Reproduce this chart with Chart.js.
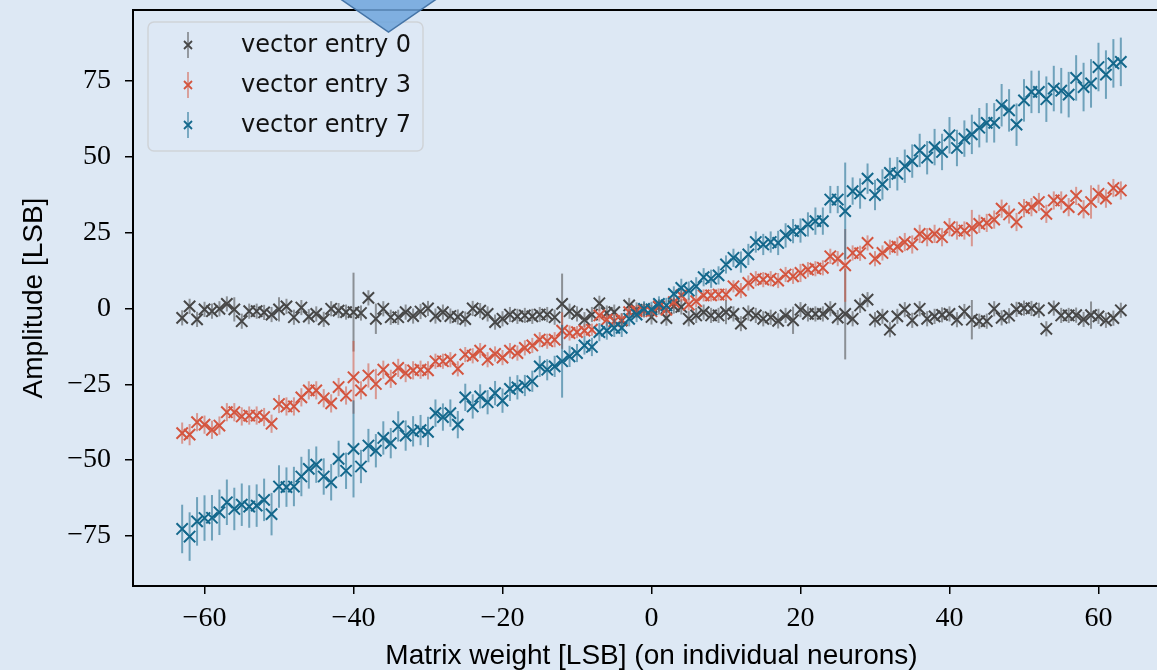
<!DOCTYPE html>
<html>
<head>
<meta charset="utf-8">
<script src="https://cdn.jsdelivr.net/npm/chart.js@4.4.1/dist/chart.umd.min.js"></script>
<style>
    html, body { margin: 0; padding: 0; background: #dde8f4; overflow: hidden; }
    #wrap { width: 1180px; height: 670px; }
</style>
</head>
<body>
<div id="wrap"><canvas id="chartAmplitude"></canvas></div>
<script>
// pesos de la matriz (eje x)
var weights = [-63, -62, -61, -60, -59, -58, -57, -56, -55, -54, -53, -52, -51, -50, -49, -48, -47, -46, -45, -44,
    -43, -42, -41, -40, -39, -38, -37, -36, -35, -34, -33, -32, -31, -30, -29, -28, -27, -26, -25, -24,
    -23, -22, -21, -20, -19, -18, -17, -16, -15, -14, -13, -12, -11, -10, -9, -8, -7, -6, -5, -4,
    -3, -2, -1, 0, 1, 2, 3, 4, 5, 6, 7, 8, 9, 10, 11, 12, 13, 14, 15, 16,
    17, 18, 19, 20, 21, 22, 23, 24, 25, 26, 27, 28, 29, 30, 31, 32, 33, 34, 35, 36,
    37, 38, 39, 40, 41, 42, 43, 44, 45, 46, 47, 48, 49, 50, 51, 52, 53, 54, 55, 56,
    57, 58, 59, 60, 61, 62, 63];

var seriesNames = ['vector entry 0', 'vector entry 3', 'vector entry 7'];

var entry0 = [-3.1, 0.7, -3.6, -0.3, -0.9, -0.1, 1.5, -0.3, -4.2, -0.9, -0.9, -1.3, -2.0, -0.3, 0.7, -2.9, 0.3, -2.7, -1.8, -3.6,
    -0.1, -0.7, -1.2, -1.2, -1.5, 3.5, -3.4, -0.1, -2.9, -2.9, -1.2, -2.5, -1.0, 0.0, -2.5, -1.2, -2.5, -2.8, -3.5, 0.0,
    -0.7, -1.8, -4.5, -3.4, -2.0, -2.6, -2.3, -2.6, -2.0, -2.0, -2.9, 1.5, -0.9, -1.8, -3.7, -2.0, 1.7, -1.5, -1.2, -4.0,
    1.0, -0.5, -0.5, -2.8, 0.5, -3.2, 0.8, 0.5, -3.4, -2.3, -1.2, -2.3, -2.3, -1.2, -1.8, -5.0, -1.5, -2.3, -3.4, -2.9,
    -4.1, -2.3, -3.9, -0.4, -1.8, -1.8, -1.8, -0.1, -3.0, -1.8, -3.4, 1.0, 2.9, -3.7, -2.6, -7.0, -2.6, -0.4, -3.9, -0.1,
    -3.4, -2.6, -2.1, -1.8, -3.7, -1.0, -3.7, -4.2, -4.2, -0.1, -3.1, -2.4, -0.3, 0.1, 0.0, -0.6, -6.7, 0.1, -2.3, -2.3,
    -2.2, -3.6, -2.2, -2.6, -3.9, -3.2, -0.6];
var err0 = [2.5, 2.5, 2.5, 2.5, 2.5, 2.5, 2.5, 4, 2.5, 2.5, 2.5, 2.5, 2.5, 4, 2.5, 2.5, 2.5, 2.5, 2.5, 2.5,
    2.5, 2.5, 2.5, 13, 2.5, 2.5, 5, 2.5, 2.5, 2.5, 2.5, 2.5, 2.5, 2.5, 2.5, 2.5, 2.5, 2.5, 2.5, 2.5,
    2.5, 2.5, 2.5, 2.5, 2.5, 2.5, 2.5, 2.5, 2.5, 2.5, 2.5, 10, 2.5, 2.5, 2.5, 2.5, 2.5, 2.5, 2.5, 2.5,
    2.5, 2.5, 2.5, 2.5, 2.5, 2.5, 2.5, 2.5, 2.5, 2.5, 2.5, 2.5, 2.5, 4, 2.5, 2.5, 2.5, 2.5, 2.5, 2.5,
    2.5, 2.5, 4.5, 2.5, 2.5, 2.5, 2.5, 2.5, 2.5, 15, 2.5, 2.5, 2.5, 2.5, 2.5, 2.5, 2.5, 2.5, 2.5, 2.5,
    2.5, 2.5, 2.5, 2.5, 2.5, 2.5, 6.5, 2.5, 2.5, 2.5, 2.5, 2.5, 2.5, 2.5, 2.5, 2.5, 2.5, 2.5, 2.5, 2.5,
    2.5, 2.5, 4.5, 2.5, 2.5, 2.5, 2.5];

var entry3 = [-41.1, -41.6, -37.5, -38.3, -40.0, -38.6, -34.2, -34.2, -35.6, -35.3, -35.3, -35.8, -38.0, -31.5, -32.3, -32.3, -29.3, -27.0, -27.0, -29.6,
    -31.3, -25.9, -28.7, -22.7, -27.0, -22.1, -24.9, -20.2, -23.2, -19.6, -21.3, -20.4, -20.2, -20.4, -17.4, -17.4, -16.9, -19.9, -15.2, -15.6,
    -13.9, -16.9, -15.0, -16.2, -13.9, -14.7, -13.0, -12.2, -10.3, -10.8, -10.3, -7.3, -8.1, -7.8, -7.3, -7.0, -2.3, -3.7, -4.2, -3.7,
    -1.2, -0.9, -0.7, -0.9, 0.7, -0.4, 2.1, 4.3, 1.3, 2.4, 4.3, 4.3, 4.6, 4.6, 7.3, 5.9, 8.4, 9.8, 9.5, 9.8,
    9.2, 11.2, 10.6, 11.7, 12.8, 13.1, 13.4, 17.2, 16.4, 14.2, 18.3, 18.2, 21.6, 16.4, 18.3, 20.2, 20.4, 21.9, 21.1, 24.6,
    23.5, 24.6, 23.5, 26.8, 25.7, 25.7, 26.5, 27.9, 28.2, 29.3, 32.9, 31.0, 28.5, 33.1, 33.4, 35.1, 31.2, 35.6, 35.6, 33.4,
    37.1, 32.7, 35.1, 37.8, 36.2, 39.7, 38.9];
var err3 = [3.5, 3.5, 3, 3, 3, 3, 3, 3, 3, 3, 3, 3, 3, 3, 3, 3, 3, 3, 3, 3,
    3, 3, 3, 12, 3, 4, 5, 3, 3, 3, 3, 3, 3, 3, 2.5, 2.5, 2.5, 2.5, 2.5, 2.5,
    2.5, 2.5, 2.5, 2.5, 2.5, 2.5, 2.5, 2.5, 2.5, 2.5, 2.5, 6, 2.5, 2, 2, 2, 2, 2, 2, 2,
    2, 2, 2, 2, 2, 2, 2, 2, 2, 2, 2, 2, 2, 2, 2, 2.5, 2.5, 2.5, 2.5, 2.5,
    2.5, 2.5, 2.5, 3, 2.5, 2.5, 2.5, 2.5, 2.5, 12, 2.5, 2.5, 2.5, 2.5, 2.5, 2.5, 3, 3, 3, 3,
    3, 3, 3, 3, 3, 3, 6, 3, 3, 3, 3, 3, 3, 3, 3, 3, 3, 3, 3, 3,
    3, 3, 5.5, 3, 3, 3, 3];

var entry7 = [-72.7, -75.2, -70.2, -69.1, -69.0, -67.2, -63.9, -66.1, -64.7, -65.3, -65.0, -63.1, -67.8, -58.7, -58.9, -58.7, -55.4, -52.9, -51.5, -55.4,
    -57.3, -49.6, -53.5, -46.3, -52.1, -45.2, -46.9, -42.7, -44.4, -38.9, -41.9, -40.5, -40.1, -40.7, -34.5, -35.8, -34.5, -38.3, -29.3, -32.3,
    -29.0, -30.9, -27.9, -30.4, -26.5, -26.0, -25.4, -24.0, -19.1, -20.2, -19.1, -17.4, -15.8, -14.7, -12.2, -12.7, -7.8, -7.3, -6.4, -6.4,
    -3.4, -2.0, -0.1, -0.3, 1.5, 1.0, 4.8, 6.8, 5.9, 7.3, 10.3, 9.8, 10.9, 14.5, 16.7, 15.3, 17.8, 21.9, 21.1, 21.9,
    21.6, 24.1, 25.5, 25.7, 27.7, 28.8, 28.8, 35.9, 35.9, 32.1, 38.7, 37.9, 42.8, 37.4, 40.9, 44.7, 44.4, 46.9, 48.6, 52.1,
    49.7, 53.2, 51.6, 57.1, 52.9, 56.0, 57.4, 59.6, 61.2, 61.2, 67.0, 65.3, 60.6, 68.6, 71.4, 71.4, 69.0, 72.5, 71.8, 70.5,
    76.0, 73.0, 74.2, 79.6, 77.1, 80.8, 81.3];
var err7 = [8, 8, 8, 7.5, 7.5, 7.5, 7.5, 7, 7, 7, 7, 7, 7, 7, 6.5, 6.5, 6.5, 6.5, 6, 6,
    6, 6, 6, 16, 5.5, 5.5, 5.5, 5.5, 5, 5, 5, 5, 5, 5, 4.5, 4.5, 4.5, 4.5, 4.5, 4,
    4, 4, 4, 4, 4, 4, 3.5, 3.5, 3.5, 3.5, 3.5, 12, 3.5, 3, 3, 3, 3, 3, 3, 3,
    2.5, 2.5, 2.5, 2.5, 2.5, 2.5, 2.5, 3, 3, 3, 3, 3, 3, 3, 3, 3.5, 3.5, 3.5, 3.5, 3.5,
    4, 4, 4, 4, 4, 4.5, 4.5, 4.5, 4.5, 16, 4.5, 5, 5, 5, 5, 5, 5.5, 5.5, 5.5, 5.5,
    5.5, 6, 6, 6, 6, 6, 6.5, 6.5, 6.5, 6.5, 7, 7, 7, 7, 7, 7, 7.5, 7.5, 7.5, 7.5,
    7.5, 8, 8, 8, 8, 8, 8];

var xTicks = [-60, -40, -20, 0, 20, 40, 60];
var yTicks = [-75, -50, -25, 0, 25, 50, 75];

var markerColors = ['#474747', '#d4553f', '#14688c'];
var errColors = ['rgba(71,71,71,0.55)', 'rgba(212,85,63,0.55)', 'rgba(20,104,140,0.55)'];

function toPoints(values) {
    return weights.map(function (w, i) { return { x: w, y: values[i] }; });
}

function fmtTick(v) {
    return v < 0 ? '\u2212' + Math.abs(v) : String(v);
}

// barras de error debajo de cada serie
var errorBars = {
    id: 'errorBars',
    beforeDatasetDraw: function (chart, args) {
        var ds = chart.data.datasets[args.index];
        var meta = args.meta;
        var yScale = chart.scales.y;
        var ctx = chart.ctx;
        ctx.save();
        ctx.strokeStyle = ds.errColor;
        ctx.lineWidth = 2;
        ds.data.forEach(function (p, i) {
            var px = meta.data[i].x;
            ctx.beginPath();
            ctx.moveTo(px, yScale.getPixelForValue(p.y - ds.errors[i]));
            ctx.lineTo(px, yScale.getPixelForValue(p.y + ds.errors[i]));
            ctx.stroke();
        });
        ctx.restore();
    }
};

// borde superior, leyenda y flecha decorativa
var frameAndLegend = {
    id: 'frameAndLegend',
    afterDraw: function (chart) {
        var ctx = chart.ctx, a = chart.chartArea;
        ctx.save();
        ctx.strokeStyle = '#000';
        ctx.lineWidth = 2;
        ctx.beginPath();
        ctx.moveTo(a.left, a.top);
        ctx.lineTo(a.right, a.top);
        ctx.lineTo(a.right, a.bottom);
        ctx.stroke();

        // leyenda
        var bx = a.left + 15, by = a.top + 12, bw = 275, bh = 129;
        ctx.beginPath();
        ctx.roundRect(bx, by, bw, bh, 6);
        ctx.fillStyle = 'rgba(221,232,244,0.85)';
        ctx.fill();
        ctx.strokeStyle = '#cfd3d8';
        ctx.lineWidth = 1.5;
        ctx.stroke();

        ctx.font = '24px "DejaVu Sans"';
        ctx.textBaseline = 'middle';
        ctx.textAlign = 'left';
        seriesNames.forEach(function (name, i) {
            var cy = by + 23 + i * 40;
            var mx = bx + 40;
            ctx.strokeStyle = errColors[i];
            ctx.lineWidth = 1.8;
            ctx.beginPath();
            ctx.moveTo(mx, cy - 13);
            ctx.lineTo(mx, cy + 13);
            ctx.stroke();
            ctx.strokeStyle = markerColors[i];
            ctx.beginPath();
            ctx.moveTo(mx - 4, cy - 4); ctx.lineTo(mx + 4, cy + 4);
            ctx.moveTo(mx - 4, cy + 4); ctx.lineTo(mx + 4, cy - 4);
            ctx.stroke();
            ctx.fillStyle = '#111';
            ctx.fillText(name, bx + 93, cy + 1);
        });

        // flecha azul de la diapositiva
        ctx.beginPath();
        ctx.moveTo(339, -2);
        ctx.lineTo(438, -2);
        ctx.lineTo(388.5, 32);
        ctx.closePath();
        ctx.fillStyle = 'rgba(110,165,220,0.85)';
        ctx.fill();
        ctx.strokeStyle = '#4574a6';
        ctx.lineWidth = 1.5;
        ctx.stroke();
        ctx.restore();
    }
};

function makeDataset(i, values, errors, order) {
    return {
        label: seriesNames[i],
        data: toPoints(values),
        errors: errors,
        errColor: errColors[i],
        showLine: false,
        pointStyle: 'crossRot',
        pointRadius: 8,
        pointHoverRadius: 8,
        pointBorderWidth: 2,
        borderColor: markerColors[i],
        backgroundColor: markerColors[i],
        order: order
    };
}

function renderAmplitudeChart() {
    var ctx = document.getElementById('chartAmplitude').getContext('2d');
    new Chart(ctx, {
        type: 'scatter',
        data: {
            datasets: [
                makeDataset(0, entry0, err0, 2),
                makeDataset(1, entry3, err3, 1),
                makeDataset(2, entry7, err7, 0)
            ]
        },
        options: {
            responsive: true,
            maintainAspectRatio: false,
            animation: false,
            layout: { padding: { left: 20, top: 10, right: 6, bottom: 0 } },
            plugins: { legend: { display: false }, tooltip: { enabled: false } },
            scales: {
                x: {
                    type: 'linear',
                    min: -69.6,
                    max: 69.6,
                    afterBuildTicks: function (scale) { scale.ticks = xTicks.map(function (v) { return { value: v }; }); },
                    afterFit: function (scale) { scale.height = 84; scale.paddingLeft = 0; scale.paddingRight = 0; },
                    grid: { drawOnChartArea: false, drawTicks: true, tickLength: 8, color: '#000', lineWidth: 1.5 },
                    border: { display: true, color: '#000', width: 2 },
                    ticks: {
                        padding: 8,
                        color: '#000',
                        maxRotation: 0,
                        font: { family: 'Liberation Serif', size: 28 },
                        callback: fmtTick
                    },
                    title: {
                        display: true,
                        text: 'Matrix weight [LSB] (on individual neurons)',
                        color: '#000',
                        font: { family: 'Liberation Sans', size: 28, lineHeight: 1 },
                        padding: 0
                    }
                },
                y: {
                    type: 'linear',
                    min: -91.5,
                    max: 98.4,
                    afterBuildTicks: function (scale) { scale.ticks = yTicks.map(function (v) { return { value: v }; }); },
                    afterFit: function (scale) { scale.width = 113; scale.paddingTop = 0; scale.paddingBottom = 0; },
                    grid: { drawOnChartArea: false, drawTicks: true, tickLength: 8, color: '#000', lineWidth: 1.5 },
                    border: { display: true, color: '#000', width: 2 },
                    ticks: {
                        padding: 14,
                        color: '#000',
                        font: { family: 'Liberation Serif', size: 28 },
                        callback: fmtTick
                    },
                    title: {
                        display: true,
                        text: 'Amplitude [LSB]',
                        color: '#000',
                        font: { family: 'Liberation Sans', size: 28, lineHeight: 1 },
                        padding: 0
                    }
                }
            }
        },
        plugins: [errorBars, frameAndLegend]
    });
}

renderAmplitudeChart();
</script>
</body>
</html>
